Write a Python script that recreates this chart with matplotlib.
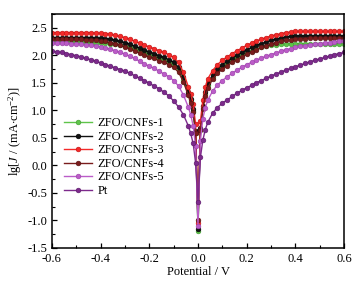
import numpy as np
import matplotlib
matplotlib.use('Agg')
import matplotlib.pyplot as plt
from matplotlib.ticker import MultipleLocator

plt.rcParams['font.family'] = 'Liberation Serif'
plt.rcParams['mathtext.fontset'] = 'custom'
plt.rcParams['mathtext.rm'] = 'Liberation Serif'
plt.rcParams['mathtext.it'] = 'Liberation Serif:italic'
plt.rcParams['axes.unicode_minus'] = False

# potential grid (V): 0.02 V steps, 0.01 V steps close to 0
potential = np.round(np.concatenate([
    np.arange(-0.60, -0.039, 0.02),
    [-0.03, -0.02, -0.01, 0.0, 0.01, 0.02, 0.03],
    np.arange(0.04, 0.601, 0.02),
]), 3)

# lg|J| values, from -0.6 V to 0.6 V
cnfs1 = [2.24, 2.24, 2.24, 2.24, 2.24, 2.24, 2.24, 2.23, 2.23, 2.23,
         2.22, 2.22, 2.21, 2.20, 2.19, 2.17, 2.14, 2.11, 2.08, 2.05,
         2.01, 1.98, 1.94, 1.91, 1.87, 1.82, 1.73, 1.55, 1.29,
         1.16, 0.98, 0.58, -1.20, 0.64, 1.04, 1.29,
         1.45, 1.60, 1.71, 1.79, 1.85, 1.91, 1.96, 2.00, 2.04, 2.08,
         2.11, 2.14, 2.16, 2.18, 2.19, 2.20, 2.20, 2.21, 2.21,
         2.21, 2.21, 2.21, 2.21, 2.21, 2.21, 2.21, 2.21, 2.21, 2.21]
cnfs2 = [2.32, 2.32, 2.32, 2.32, 2.32, 2.32, 2.32, 2.32, 2.32, 2.31,
         2.31, 2.30, 2.29, 2.27, 2.25, 2.23, 2.20, 2.16, 2.13, 2.09,
         2.06, 2.03, 1.99, 1.96, 1.92, 1.87, 1.78, 1.60, 1.34,
         1.20, 1.02, 0.62, -1.15, 0.68, 1.08, 1.33,
         1.49, 1.64, 1.75, 1.83, 1.89, 1.95, 2.00, 2.05, 2.10, 2.14,
         2.18, 2.21, 2.24, 2.27, 2.29, 2.31, 2.33, 2.34, 2.35,
         2.35, 2.35, 2.35, 2.35, 2.35, 2.35, 2.35, 2.35, 2.35, 2.35]
cnfs3 = [2.41, 2.41, 2.41, 2.41, 2.41, 2.41, 2.41, 2.41, 2.41, 2.40,
         2.40, 2.39, 2.38, 2.36, 2.34, 2.32, 2.29, 2.25, 2.22, 2.18,
         2.15, 2.12, 2.08, 2.05, 2.01, 1.96, 1.87, 1.69, 1.43,
         1.30, 1.12, 0.75, -1.05, 0.80, 1.19, 1.42,
         1.57, 1.72, 1.83, 1.91, 1.97, 2.03, 2.08, 2.13, 2.18, 2.22,
         2.26, 2.29, 2.32, 2.35, 2.37, 2.39, 2.41, 2.42, 2.43,
         2.43, 2.43, 2.43, 2.43, 2.43, 2.43, 2.43, 2.43, 2.43, 2.43]
cnfs4 = [2.29, 2.29, 2.29, 2.29, 2.29, 2.29, 2.29, 2.28, 2.28, 2.27,
         2.26, 2.25, 2.23, 2.21, 2.18, 2.15, 2.12, 2.08, 2.04, 2.00,
         1.97, 1.94, 1.90, 1.87, 1.83, 1.78, 1.69, 1.52, 1.27,
         1.14, 0.97, 0.58, -1.00, 0.64, 1.02, 1.26,
         1.41, 1.56, 1.67, 1.75, 1.81, 1.87, 1.92, 1.97, 2.02, 2.06,
         2.10, 2.14, 2.17, 2.20, 2.23, 2.25, 2.27, 2.28, 2.29,
         2.30, 2.30, 2.31, 2.31, 2.31, 2.31, 2.31, 2.31, 2.31, 2.31]
cnfs5 = [2.23, 2.23, 2.22, 2.22, 2.21, 2.21, 2.20, 2.19, 2.18, 2.17,
         2.15, 2.13, 2.11, 2.08, 2.05, 2.02, 1.98, 1.94, 1.89, 1.84,
         1.80, 1.76, 1.71, 1.66, 1.61, 1.54, 1.44, 1.28, 1.06,
         0.92, 0.72, 0.35, -1.10, 0.45, 0.85, 1.05,
         1.18, 1.35, 1.46, 1.54, 1.61, 1.67, 1.73, 1.78, 1.83, 1.87,
         1.91, 1.95, 1.98, 2.01, 2.04, 2.07, 2.10, 2.12, 2.14,
         2.16, 2.17, 2.19, 2.20, 2.21, 2.22, 2.23, 2.24, 2.25, 2.25]
pt = [2.07, 2.06, 2.05, 2.03, 2.01, 1.99, 1.97, 1.94, 1.92, 1.89,
      1.86, 1.83, 1.80, 1.77, 1.74, 1.71, 1.67, 1.63, 1.58, 1.54,
      1.49, 1.44, 1.39, 1.33, 1.26, 1.17, 1.06, 0.92, 0.72,
      0.58, 0.40, 0.05, -0.67, 0.15, 0.46, 0.65,
      0.78, 0.95, 1.05, 1.13, 1.19, 1.25, 1.31, 1.36, 1.41, 1.45,
      1.50, 1.54, 1.58, 1.62, 1.66, 1.69, 1.73, 1.76, 1.79,
      1.82, 1.85, 1.88, 1.91, 1.93, 1.96, 1.98, 2.01, 2.03, 2.05]

labels = ['ZFO/CNFs-1', 'ZFO/CNFs-2', 'ZFO/CNFs-3', 'ZFO/CNFs-4', 'ZFO/CNFs-5', 'Pt']
colors = ['#5fc44a', '#111111', '#f42a2a', '#7a1c1c', '#bb5cc8', '#7d2a8c']
edges = ['#3f9a30', '#000000', '#c01010', '#551010', '#9a40a8', '#5a1a68']
series = [cnfs1, cnfs2, cnfs3, cnfs4, cnfs5, pt]

fig = plt.figure(figsize=(3.6, 2.89), dpi=100)
ax = fig.add_axes([0.144, 0.142, 0.812, 0.81])

for y, lab, c, ec in zip(series, labels, colors, edges):
    ax.plot(potential, y, '-o', color=c, lw=1.0, ms=3.4, mfc=c, mec=ec, mew=0.4, label=lab)

ax.set_xlim(-0.6, 0.6)
ax.set_ylim(-1.5, 2.75)
ax.xaxis.set_major_locator(MultipleLocator(0.2))
ax.xaxis.set_minor_locator(MultipleLocator(0.1))
ax.yaxis.set_major_locator(MultipleLocator(0.5))
ax.yaxis.set_minor_locator(MultipleLocator(0.25))
ax.tick_params(which='both', direction='in', labelsize=9, top=False, right=False)
ax.tick_params(which='major', length=3.5, width=0.9)
ax.tick_params(which='minor', length=2, width=0.8)
for s in ax.spines.values():
    s.set_linewidth(1.1)

ax.set_xlabel('Potential / V', fontsize=9, labelpad=1)
ax.set_ylabel(r'lg[$J$ / (mA$\cdot$cm$^{-2}$)]', fontsize=9, labelpad=2)

ax.legend(loc='upper left', bbox_to_anchor=(0.01, 0.595), frameon=False, fontsize=9,
          handlelength=2.3, handletextpad=0.4, labelspacing=0.12, borderpad=0.2)

fig.savefig('out.png', dpi=100)
